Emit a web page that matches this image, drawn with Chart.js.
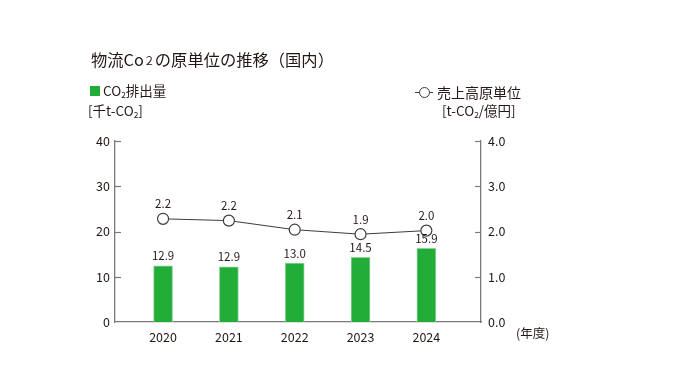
<!DOCTYPE html>
<html>
<head>
<meta charset="utf-8">
<script src="https://cdn.jsdelivr.net/npm/chart.js@4"></script>
<style>
  html, body { margin: 0; padding: 0; background: #fff; }
  #wrap { position: relative; width: 686px; height: 390px; overflow: hidden;
          font-family: "Noto Sans CJK JP", "Noto Sans", sans-serif; color: #231815; }
  #wrap canvas { position: absolute; left: 0; top: 0; }
  .t { position: absolute; white-space: nowrap; line-height: 1; }
  sub { font-size: 0.62em; vertical-align: -0.25em; line-height: 0; }
</style>
</head>
<body>
<div id="wrap">
  <canvas id="c" width="686" height="390"></canvas>
  <div class="t" style="left:91px; top:51px; font-size:16.3px;">物流Co<span style="font-size:11px; position:relative; top:-1px;">２</span>の原単位の推移（国内）</div>
  <div style="position:absolute; left:90px; top:86px; width:10px; height:10px; background:#22ac38;"></div>
  <div class="t" style="left:103px; top:84px; font-size:13.5px;">CO<sub>2</sub>排出量</div>
  <div class="t" style="left:88px; top:104px; font-size:13.5px;">[千t-CO<sub>2</sub>]</div>
  <div style="position:absolute; left:415px; top:92px; width:18px; height:1px; background:#3c3c3c;"></div>
  <div style="position:absolute; left:419px; top:87px; width:9px; height:9px; border:1px solid #3c3c3c; border-radius:50%; background:#fff;"></div>
  <div class="t" style="left:437px; top:85px; font-size:14px;">売上高原単位</div>
  <div class="t" style="left:442px; top:104px; font-size:13.5px;">[t-CO<sub>2</sub>/億円]</div>
  <div class="t" style="left:516px; top:327px; font-size:12.5px;">(年度)</div>
</div>
<script>
// ---- data ----
const years = ['2020', '2021', '2022', '2023', '2024'];
const co2Values = [12.4, 12.2, 13.0, 14.3, 16.3];          // bar heights
const co2Labels = ['12.9', '12.9', '13.0', '14.5', '15.9']; // printed bar labels
const unitValues = [2.28, 2.24, 2.04, 1.94, 2.02];           // point heights
const unitLabels = ['2.2', '2.2', '2.1', '1.9', '2.0'];      // printed point labels
const leftTicks = [0, 10, 20, 30, 40];
const rightTicks = [0, 1, 2, 3, 4];

const GREEN = '#22ac38';
const DARK = '#3c3c3c';
const AXIS = '#7a7a7a';
const FONT = '"Noto Sans CJK JP", "Noto Sans", sans-serif';

const innerTicks = {
  id: 'innerTicks',
  afterDraw(chart) {
    const ctx = chart.ctx;
    const a = chart.chartArea;
    ctx.save();
    ctx.strokeStyle = AXIS;
    ctx.lineWidth = 1.2;
    const ys = chart.scales.y, yr = chart.scales.y1;
    leftTicks.forEach(v => {
      if (v === 0) return;
      const p = Math.round(ys.getPixelForValue(v)) + 0.5;
      ctx.beginPath(); ctx.moveTo(a.left, p); ctx.lineTo(a.left + 6, p); ctx.stroke();
    });
    rightTicks.forEach(v => {
      if (v === 0) return;
      const p = Math.round(yr.getPixelForValue(v)) + 0.5;
      ctx.beginPath(); ctx.moveTo(a.right, p); ctx.lineTo(a.right - 6, p); ctx.stroke();
    });
    ctx.restore();
  }
};

const valueLabels = {
  id: 'valueLabels',
  afterDatasetsDraw(chart) {
    const ctx = chart.ctx;
    ctx.save();
    ctx.fillStyle = '#231815';
    ctx.font = '11.5px ' + FONT;
    ctx.textAlign = 'center';
    ctx.textBaseline = 'middle';
    chart.getDatasetMeta(0).data.forEach((el, i) => {
      ctx.fillText(co2Labels[i], el.x, el.y - 10);
    });
    chart.getDatasetMeta(1).data.forEach((el, i) => {
      ctx.fillText(unitLabels[i], el.x, el.y - 15);
    });
    ctx.restore();
  }
};

new Chart(document.getElementById('c'), {
  type: 'bar',
  data: {
    datasets: [
      {
        type: 'bar',
        data: co2Values.map((v, i) => ({ x: i, y: v })),
        backgroundColor: GREEN,
        borderColor: '#8fd39a',
        borderWidth: 1,
        barThickness: 19,
        yAxisID: 'y',
        order: 2
      },
      {
        type: 'line',
        data: unitValues.map((v, i) => ({ x: i, y: v })),
        borderColor: DARK,
        borderWidth: 1,
        pointRadius: 5.5,
        pointBackgroundColor: '#ffffff',
        pointBorderColor: DARK,
        pointBorderWidth: 1.2,
        yAxisID: 'y1',
        order: 1
      }
    ]
  },
  options: {
    responsive: false,
    animation: false,
    events: [],
    layout: { padding: { left: 0, top: 141, right: 145, bottom: 38 } },
    plugins: { legend: { display: false }, tooltip: { enabled: false } },
    scales: {
      x: {
        type: 'linear',
        offset: false,
        min: -0.73,
        max: 4.83,
        afterBuildTicks(s) { s.ticks = years.map((_, i) => ({ value: i })); },
        afterFit(s) { s.height = 30; },
        grid: { display: false, drawTicks: false, offset: false },
        border: { display: true, color: AXIS, width: 1.3 },
        ticks: {
          padding: 8,
          color: '#231815',
          font: { family: FONT, size: 12.5 },
          callback: v => years[v] ?? ''
        }
      },
      y: {
        position: 'left',
        min: 0, max: 40,
        afterBuildTicks(s) { s.ticks = leftTicks.map(v => ({ value: v })); },
        afterFit(s) { s.width = 115; },
        grid: { display: false, drawTicks: false },
        border: { display: true, color: AXIS, width: 1.3 },
        ticks: { padding: 5, color: '#231815', font: { family: FONT, size: 12.5 } }
      },
      y1: {
        position: 'right',
        min: 0, max: 4,
        afterBuildTicks(s) { s.ticks = rightTicks.map(v => ({ value: v })); },
        afterFit(s) { s.width = 60; },
        grid: { display: false, drawTicks: false },
        border: { display: true, color: AXIS, width: 1.3 },
        ticks: {
          padding: 7, color: '#231815', font: { family: FONT, size: 12.5 },
          callback: v => Number(v).toFixed(1)
        }
      }
    }
  },
  plugins: [innerTicks, valueLabels]
});
</script>
</body>
</html>
